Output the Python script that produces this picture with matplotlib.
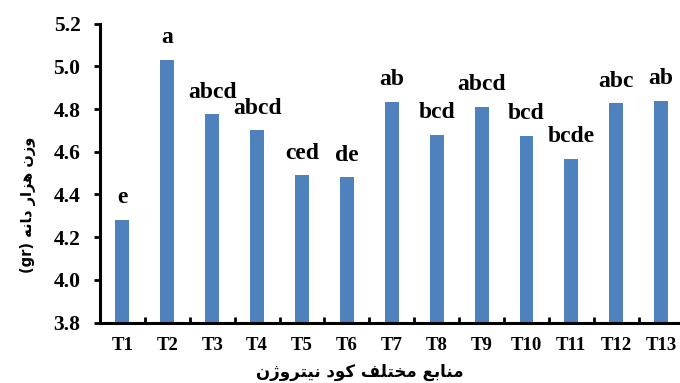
import numpy as np
import matplotlib.pyplot as plt
from matplotlib.ticker import MultipleLocator, FixedLocator

treatments = ["T1", "T2", "T3", "T4", "T5", "T6", "T7",
              "T8", "T9", "T10", "T11", "T12", "T13"]
weight = [4.28, 5.03, 4.775, 4.70, 4.49, 4.48, 4.835,
          4.678, 4.81, 4.675, 4.566, 4.827, 4.838]
groups = ["e", "a", "abcd", "abcd", "ced", "de", "ab",
          "bcd", "abcd", "bcd", "bcde", "abc", "ab"]

# Persian labels in contextual (presentation) forms; matplotlib draws
# left to right, so the string is reversed for display.
def rtl(s):
    return s[::-1]

x_title = rtl("\uFEE3\uFEE8\uFE8E\uFE91\uFECA \uFEE3\uFEA8\uFE98\uFEE0\uFED2 "
              "\uFB90\uFEEE\uFEA9 \uFEE7\uFBFF\uFE98\uFEAE\uFEED\uFB8A\uFEE5")
y_title = "(gr) " + rtl("\uFEED\uFEAF\uFEE5 \uFEEB\uFEB0\uFE8D\uFEAD "
                        "\uFEA9\uFE8E\uFEE7\uFEEA")

serif = "Liberation Serif"

fig = plt.figure(figsize=(6.8, 3.83), dpi=100)
ax = fig.add_axes([0.147, 0.1574, 0.853, 0.7812])

x = np.arange(len(treatments))
bars = ax.bar(x, weight, width=0.31, color="#4F81BD", zorder=2)

for xi, v, g in zip(x, weight, groups):
    ax.annotate(g, (xi, v), xytext=(0, 12), textcoords="offset points",
                ha="center", va="baseline", fontsize=17,
                fontweight="bold", family=serif)

ax.set_ylim(3.8, 5.2)
ax.set_xlim(-0.5, 12.42)
ax.yaxis.set_major_locator(MultipleLocator(0.2))
ax.set_yticklabels([f"{t:.1f}" for t in ax.get_yticks()])

ax.set_xticks(x)
ax.set_xticklabels(treatments)
ax.xaxis.set_minor_locator(FixedLocator(x[:-1] + 0.5))
ax.tick_params(axis="x", which="major", length=0, pad=10)
ax.tick_params(axis="x", which="minor", direction="in", length=4.5, width=2)
ax.tick_params(axis="y", direction="out", length=4, width=2, pad=10)

for lab in ax.get_xticklabels():
    lab.set_family(serif)
    lab.set_fontweight("bold")
    lab.set_fontsize(13.5)
for lab in ax.get_yticklabels():
    lab.set_family(serif)
    lab.set_fontweight("bold")
    lab.set_fontsize(15.5)

for side in ["top", "right"]:
    ax.spines[side].set_visible(False)
for side in ["left", "bottom"]:
    ax.spines[side].set_linewidth(2.2)

ax.set_xlabel(x_title, fontsize=12, fontweight="bold", family="DejaVu Sans",
              va="center")
ax.xaxis.set_label_coords(0.448, -0.165)
ax.set_ylabel(y_title, fontsize=10.5, fontweight="bold", family="DejaVu Sans",
              va="center")
ax.yaxis.set_label_coords(-0.124, 0.393)

fig.savefig("out.png", dpi=100)
